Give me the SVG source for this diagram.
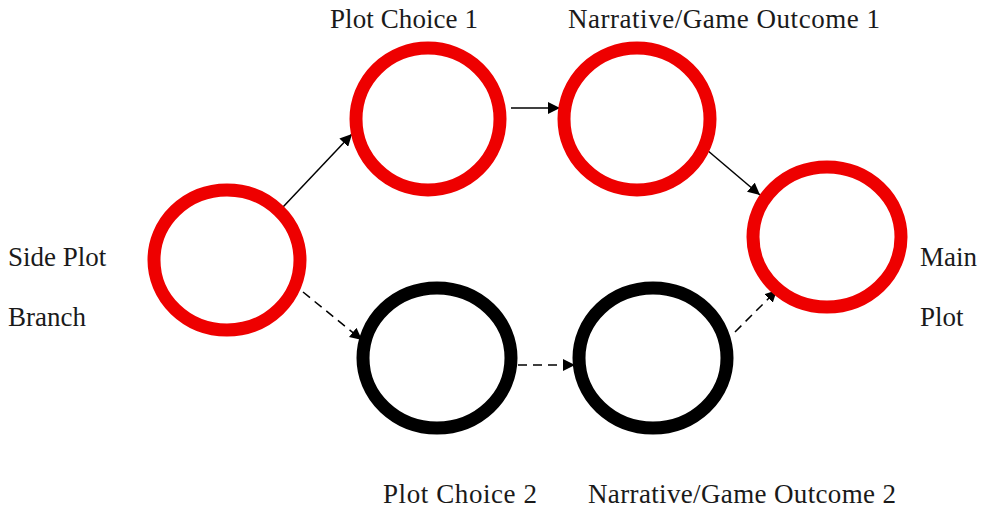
<svg xmlns="http://www.w3.org/2000/svg" width="982" height="513" viewBox="0 0 982 513">
  <style>
    .red { fill: none; stroke: #ee0000; stroke-width: 13; }
    .blk { fill: none; stroke: #000000; stroke-width: 13; }
    .lbl { font-family: "Liberation Serif", "Times New Roman", serif; font-size: 27px; fill: #1a1a1a; }
    .solid { stroke: #000; stroke-width: 1.5; fill: none; marker-end: url(#head); }
    .dash { stroke: #000; stroke-width: 1.5; fill: none; stroke-dasharray: 9 6; marker-end: url(#head); }
  </style>
  <defs>
    <marker id="head" viewBox="0 0 10 10" refX="10" refY="5" markerWidth="12" markerHeight="12" markerUnits="userSpaceOnUse" orient="auto">
      <path d="M0,0 L10,5 L0,10 z" fill="#000"/>
    </marker>
  </defs>
  <rect width="982" height="513" fill="#ffffff"/>

  <g id="connectors">
    <line class="solid" x1="283" y1="207" x2="352" y2="134"/>
    <line class="solid" x1="511" y1="108" x2="560" y2="108"/>
    <line class="solid" x1="707" y1="150" x2="760" y2="195"/>
    <line class="dash" x1="303" y1="292" x2="362" y2="340"/>
    <line class="dash" x1="518" y1="365" x2="575" y2="365"/>
    <line class="dash" x1="735" y1="332" x2="777" y2="290"/>
  </g>

  <g id="side-plot-branch">
    <ellipse class="red" cx="227" cy="260" rx="73" ry="70"/>
    <text class="lbl" x="8" y="266">Side Plot</text>
    <text class="lbl" x="8" y="326">Branch</text>
  </g>
  <g id="plot-choice-1">
    <ellipse class="red" cx="428" cy="119" rx="72" ry="71"/>
    <text class="lbl" x="330" y="28" textLength="148">Plot Choice 1</text>
  </g>
  <g id="outcome-1">
    <ellipse class="red" cx="637" cy="119" rx="73" ry="71"/>
    <text class="lbl" x="568" y="28" textLength="312">Narrative/Game Outcome 1</text>
  </g>
  <g id="main-plot">
    <ellipse class="red" cx="827" cy="237" rx="74" ry="70"/>
    <text class="lbl" x="920" y="266">Main</text>
    <text class="lbl" x="920" y="326">Plot</text>
  </g>
  <g id="plot-choice-2">
    <ellipse class="blk" cx="437" cy="358" rx="74" ry="70"/>
    <text class="lbl" x="383" y="503" textLength="154">Plot Choice 2</text>
  </g>
  <g id="outcome-2">
    <ellipse class="blk" cx="653" cy="358" rx="74" ry="70"/>
    <text class="lbl" x="588" y="503" textLength="308">Narrative/Game Outcome 2</text>
  </g>
</svg>
